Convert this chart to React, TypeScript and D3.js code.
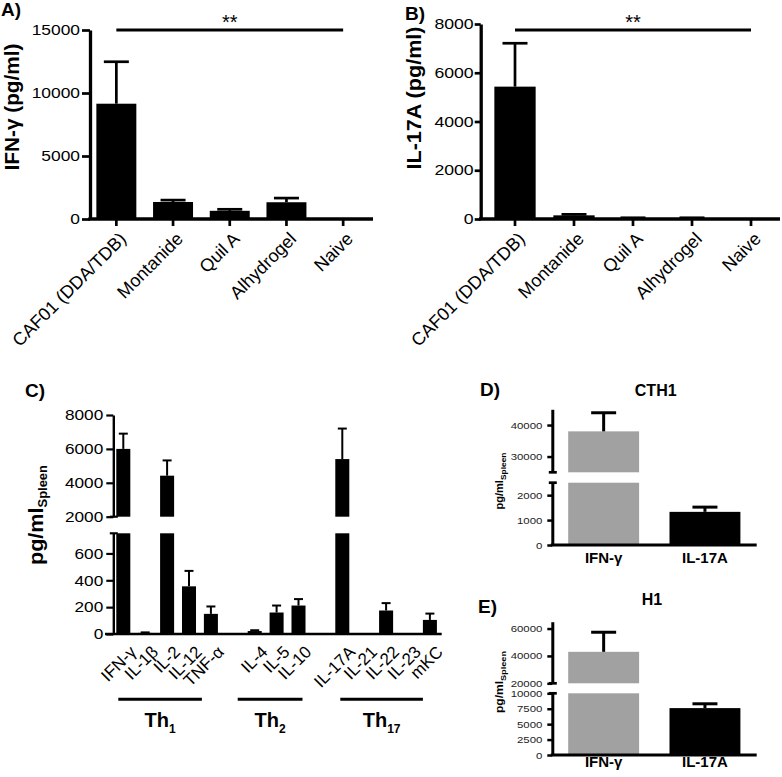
import React, { useEffect, useRef } from 'react';
import * as d3 from 'd3';

const WIDTH = 782;
const HEIGHT = 777;
const FONT = '"Liberation Sans", Arial, Helvetica, sans-serif';

// A) / B) adjuvant groups
const adjuvants = ['CAF01 (DDA/TDB)', 'Montanide', 'Quil A', 'Alhydrogel', 'Naive'];
const ifnMeans = [9150, 1350, 650, 1330, 0];
const ifnErrors = [3330, 150, 120, 330, 0];
const il17Means = [5430, 150, 40, 40, 0];
const il17Errors = [1780, 40, 10, 10, 0];
const ticksA = [0, 5000, 10000, 15000];
const ticksB = [0, 2000, 4000, 6000, 8000];
const sigLevelA = 15000;
const sigLevelB = 7750;

// C) cytokine profile, grouped by T helper subset
const th1 = ['IFN-γ', 'IL-1β', 'IL-2', 'IL-12', 'TNF-α'];
const th2 = ['IL-4', 'IL-5', 'IL-10'];
const th17 = ['IL-17A', 'IL-21', 'IL-22', 'IL-23', 'mKC'];
const cytokineMeans = [6000, 8, 4420, 355, 150, 22, 160, 212, 5400, 0, 175, 0, 105];
const cytokineErrors = [900, 4, 900, 115, 55, 6, 52, 48, 1800, 0, 55, 0, 47];
const ticksCLower = [0, 200, 400, 600];
const ticksCUpper = [2000, 4000, 6000, 8000];
const subsetNames = ['1', '2', '17'];

// D) CTH1 and E) H1
const readouts = ['IFN-γ', 'IL-17A'];
const cth1Means = [38000, 1330];
const cth1Errors = [5900, 190];
const h1Means = [43000, 7600];
const h1Errors = [14300, 700];
const readoutColors = ['#a1a1a1', '#000000'];
const ticksDLower = [0, 1000, 2000];
const ticksDUpper = [30000, 40000];
const ticksELower = [0, 2500, 5000, 7500, 10000];
const ticksEUpper = [20000, 40000, 60000];

// draws bars, error bars and a (possibly broken) y axis
function drawPanel(root, cfg) {
  const g = root.append('g');
  const x = d3.scaleBand().domain(cfg.slots).range(cfg.xRange).padding(0);
  const bw = x.bandwidth() * cfg.barFrac;
  const cx = (k) => x(k) + x.bandwidth() / 2;
  const scales = cfg.segments.map((s) => d3.scaleLinear().domain(s.domain).range(s.range));
  const baseline = scales[0](0);

  // bar pieces, one per axis segment
  cfg.segments.forEach((s, i) => {
    const y = scales[i];
    g.append('g')
      .selectAll('rect')
      .data(cfg.bars.filter((d) => d.mean > s.domain[0]))
      .enter()
      .append('rect')
      .attr('x', (d) => cx(d.key) - bw / 2)
      .attr('width', bw)
      .attr('y', (d) => y(Math.min(d.mean, s.domain[1])))
      .attr('height', (d) => y(s.domain[0]) - y(Math.min(d.mean, s.domain[1])))
      .attr('fill', (d) => d.color);
  });

  // error bars (upper half only)
  const segOf = (v) => {
    let k = 0;
    cfg.segments.forEach((s, i) => { if (v >= s.domain[0]) k = i; });
    return k;
  };
  const eg = g.append('g').attr('stroke', '#000').attr('stroke-width', cfg.errStroke);
  cfg.bars.filter((d) => d.err > 0).forEach((d) => {
    const y = scales[segOf(d.mean)];
    const top = y(d.mean + d.err);
    eg.append('line')
      .attr('x1', cx(d.key)).attr('x2', cx(d.key))
      .attr('y1', y(d.mean)).attr('y2', top);
    eg.append('line')
      .attr('x1', cx(d.key) - cfg.capW / 2).attr('x2', cx(d.key) + cfg.capW / 2)
      .attr('y1', top).attr('y2', top);
  });

  // y axis segments
  cfg.segments.forEach((s, i) => {
    const ax = g.append('g')
      .attr('transform', `translate(${cfg.axisX},0)`)
      .call(d3.axisLeft(scales[i])
        .tickValues(s.ticks)
        .tickFormat(d3.format('d'))
        .tickSize(cfg.tickSize)
        .tickSizeOuter(0)
        .tickPadding(cfg.tickPad))
      .attr('font-family', FONT)
      .attr('font-size', cfg.tickFont);
    ax.select('.domain').attr('stroke-width', cfg.stroke);
    ax.selectAll('.tick line').attr('stroke-width', cfg.tickStroke);
    ax.selectAll('.tick text')
      .attr('fill', cfg.tickColor || '#000')
      .attr('x', -(cfg.tickSize + cfg.tickPad) / cfg.tickSx)
      .attr('transform', `scale(${cfg.tickSx},1)`);
    // break marks
    const marks = [];
    if (i > 0) marks.push(s.range[0]);
    if (i < cfg.segments.length - 1) marks.push(s.range[1]);
    g.selectAll(null)
      .data(marks)
      .enter()
      .append('line')
      .attr('x1', cfg.axisX - 3.5)
      .attr('x2', cfg.axisX + 4.5)
      .attr('y1', (d) => d)
      .attr('y2', (d) => d)
      .attr('stroke', '#000')
      .attr('stroke-width', cfg.stroke * 0.9);
  });

  // x axis
  g.append('line')
    .attr('x1', cfg.axisStart ?? cfg.axisX - cfg.stroke / 2)
    .attr('x2', cfg.axisEnd)
    .attr('y1', baseline)
    .attr('y2', baseline)
    .attr('stroke', '#000')
    .attr('stroke-width', cfg.stroke);
  if (cfg.xTickLen) {
    g.selectAll(null)
      .data(cfg.slots)
      .enter()
      .append('line')
      .attr('x1', cx).attr('x2', cx)
      .attr('y1', baseline)
      .attr('y2', baseline + cfg.xTickLen)
      .attr('stroke', '#000')
      .attr('stroke-width', cfg.tickStroke);
  }

  return { cx, scales, baseline };
}

function rotatedLabels(root, keys, cx, dx, y, size) {
  root.append('g')
    .selectAll('text')
    .data(keys)
    .enter()
    .append('text')
    .attr('transform', (d) => `translate(${cx(d) + dx},${y}) rotate(-45)`)
    .attr('text-anchor', 'end')
    .attr('font-size', size)
    .attr('fill', '#000')
    .text((d) => d);
}

function text(root, x, y, str, opts = {}) {
  const t = root.append('text')
    .attr('transform', `translate(${x},${y})${opts.rotate ? ` rotate(${opts.rotate})` : ''}`)
    .attr('text-anchor', opts.anchor || 'start')
    .attr('font-size', opts.size || 14)
    .attr('font-weight', opts.bold ? 'bold' : 'normal')
    .attr('fill', '#000')
    .text(str);
  if (opts.length) t.attr('textLength', opts.length).attr('lengthAdjust', 'spacingAndGlyphs');
  return t;
}

export default function App() {
  const svgRef = useRef(null);

  useEffect(() => {
    const svg = d3.select(svgRef.current);
    svg.selectAll('*').remove();
    svg.attr('font-family', FONT);

    const zip = (keys, means, errs, colors) => keys.map((k, i) => ({
      key: k, mean: means[i], err: errs[i], color: colors ? colors[i] : '#000',
    }));

    // ---- A) IFN-gamma
    const a = drawPanel(svg, {
      slots: adjuvants,
      bars: zip(adjuvants, ifnMeans, ifnErrors),
      xRange: [88, 371.5], barFrac: 0.705, axisX: 90, axisEnd: 373,
      segments: [{ domain: [0, 15000], range: [219, 30], ticks: ticksA }],
      stroke: 3.3, tickStroke: 2.7, errStroke: 2.7, capW: 25,
      tickSize: 8, tickPad: 2, tickFont: 14.5, tickSx: 1.2, xTickLen: 7,
    });
    rotatedLabels(svg, adjuvants, a.cx, 11, 240, 18);
    svg.append('line')
      .attr('x1', a.cx(adjuvants[0])).attr('x2', a.cx(adjuvants[adjuvants.length - 1]))
      .attr('y1', a.scales[0](sigLevelA)).attr('y2', a.scales[0](sigLevelA))
      .attr('stroke', '#000').attr('stroke-width', 3);
    text(svg, (a.cx(adjuvants[0]) + a.cx(adjuvants[4])) / 2, a.scales[0](sigLevelA) - 1, '**', { anchor: 'middle', size: 20 });
    text(svg, 18.8, 107, 'IFN-γ (pg/ml)', { rotate: -90, anchor: 'middle', size: 20, bold: true, length: 127 });
    text(svg, 1, 16, 'A)', { size: 19, bold: true });

    // ---- B) IL-17A
    const b = drawPanel(svg, {
      slots: adjuvants,
      bars: zip(adjuvants, il17Means, il17Errors),
      xRange: [485.5, 780.5], barFrac: 0.7, axisX: 480.7, axisEnd: 780,
      segments: [{ domain: [0, 8000], range: [219, 24], ticks: ticksB }],
      stroke: 3.3, tickStroke: 2.7, errStroke: 2.7, capW: 25,
      tickSize: 6, tickPad: 1, tickFont: 14.5, tickSx: 1.22, xTickLen: 7,
    });
    rotatedLabels(svg, adjuvants, b.cx, 11, 240, 18);
    svg.append('line')
      .attr('x1', b.cx(adjuvants[0])).attr('x2', b.cx(adjuvants[adjuvants.length - 1]))
      .attr('y1', b.scales[0](sigLevelB)).attr('y2', b.scales[0](sigLevelB))
      .attr('stroke', '#000').attr('stroke-width', 3);
    text(svg, (b.cx(adjuvants[0]) + b.cx(adjuvants[4])) / 2, b.scales[0](sigLevelB) - 1, '**', { anchor: 'middle', size: 20 });
    text(svg, 420.8, 98, 'IL-17A (pg/ml)', { rotate: -90, anchor: 'middle', size: 20, bold: true, length: 143 });
    text(svg, 405, 20, 'B)', { size: 19, bold: true });

    // ---- C) cytokine panel with broken axis
    const cytokines = [...th1, ...th2, ...th17];
    const slots = [...th1, 'gap-1', ...th2, 'gap-2', ...th17];
    const c = drawPanel(svg, {
      slots,
      bars: zip(cytokines, cytokineMeans, cytokineErrors),
      xRange: [112.35, 440.85], barFrac: 0.64, axisX: 113.3, axisStart: 105, axisEnd: 441.7,
      segments: [
        { domain: [0, 750], range: [634, 533.3], ticks: ticksCLower },
        { domain: [2000, 8000], range: [516.7, 415], ticks: ticksCUpper },
      ],
      stroke: 2.4, tickStroke: 2.2, errStroke: 2, capW: 9,
      tickSize: 7, tickPad: 3, tickFont: 15, tickSx: 1.15, xTickLen: 0,
    });
    rotatedLabels(svg, cytokines, c.cx, 14, 653, 17);
    const yl = text(svg, 43, 515, 'pg/ml', { rotate: -90, anchor: 'middle', size: 20, bold: true, length: 100 });
    yl.append('tspan').attr('dy', 4).attr('font-size', 12).text('Spleen');
    text(svg, 25, 397, 'C)', { size: 19, bold: true });

    // subset brackets
    const groups = [th1, th2, th17];
    const groupPad = [[-5, -9], [-17, 4], [-2, -7]];
    groups.forEach((grp, i) => {
      const x1 = c.cx(grp[0]) + groupPad[i][0];
      const x2 = c.cx(grp[grp.length - 1]) + groupPad[i][1];
      svg.append('line')
        .attr('x1', x1).attr('x2', x2).attr('y1', 699.3).attr('y2', 699.3)
        .attr('stroke', '#000').attr('stroke-width', 3);
      const t = text(svg, (x1 + x2) / 2, 727, 'Th', { anchor: 'middle', size: 20, bold: true });
      t.append('tspan').attr('dy', 6).attr('font-size', 12).text(subsetNames[i]);
    });

    // ---- D) CTH1
    const d = drawPanel(svg, {
      slots: readouts,
      bars: zip(readouts, cth1Means, cth1Errors, readoutColors),
      xRange: [553, 755.6], barFrac: 0.7, axisX: 552.3, axisEnd: 756.7,
      segments: [
        { domain: [0, 2500], range: [545, 482.7], ticks: ticksDLower },
        { domain: [25000, 45000], range: [472.3, 409.3], ticks: ticksDUpper },
      ],
      stroke: 3, tickStroke: 2.5, errStroke: 3, capW: 25,
      tickSize: 5, tickPad: 5, tickFont: 9.5, tickSx: 1.2, xTickLen: 0, tickColor: '#222',
    });
    readouts.forEach((k) => text(svg, d.cx(k), 563, k, { anchor: 'middle', size: 15, bold: true }));
    text(svg, 655.7, 396, 'CTH1', { anchor: 'middle', size: 16, bold: true });
    const dl = text(svg, 503, 481, 'pg/ml', { rotate: -90, anchor: 'middle', size: 10.5, bold: true, length: 57 });
    dl.append('tspan').attr('dy', 2.5).attr('font-size', 8).text('Spleen');
    text(svg, 480, 396, 'D)', { size: 19, bold: true });

    // ---- E) H1
    const e = drawPanel(svg, {
      slots: readouts,
      bars: zip(readouts, h1Means, h1Errors, readoutColors),
      xRange: [553, 755.6], barFrac: 0.7, axisX: 552.3, axisEnd: 756.7,
      segments: [
        { domain: [0, 10000], range: [755, 693.3], ticks: ticksELower },
        { domain: [20000, 65000], range: [683.3, 621.7], ticks: ticksEUpper },
      ],
      stroke: 3, tickStroke: 2.5, errStroke: 3, capW: 25,
      tickSize: 5, tickPad: 5, tickFont: 9.5, tickSx: 1.2, xTickLen: 0, tickColor: '#222',
    });
    readouts.forEach((k) => text(svg, e.cx(k), 767, k, { anchor: 'middle', size: 15, bold: true }));
    text(svg, 652, 605, 'H1', { anchor: 'middle', size: 16, bold: true });
    const el = text(svg, 503, 682, 'pg/ml', { rotate: -90, anchor: 'middle', size: 10.5, bold: true, length: 62 });
    el.append('tspan').attr('dy', 2.5).attr('font-size', 8).text('Spleen');
    text(svg, 478, 613, 'E)', { size: 19, bold: true });
  }, []);

  return (
    <svg
      ref={svgRef}
      width={WIDTH}
      height={HEIGHT}
      style={{ position: 'absolute', left: 0, top: 0, background: '#fff' }}
    />
  );
}
